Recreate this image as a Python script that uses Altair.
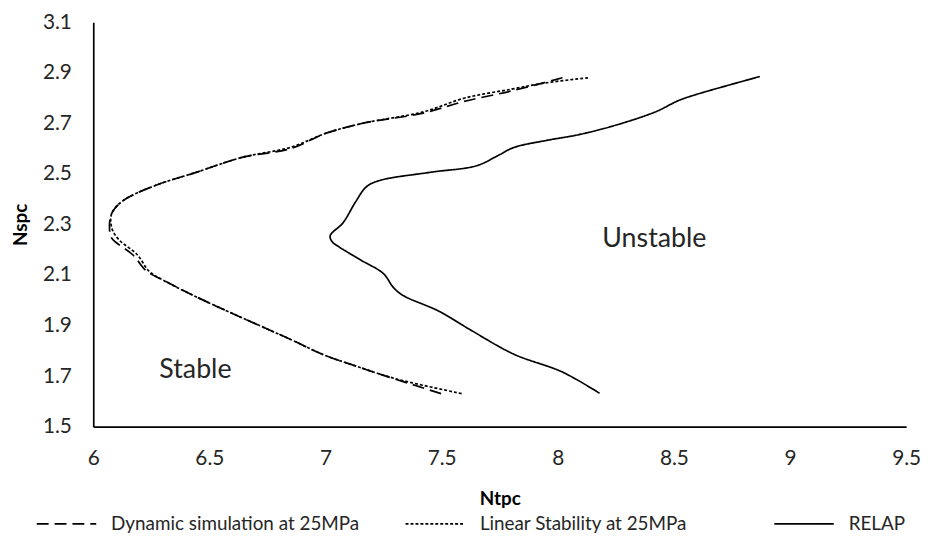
import altair as alt
import pandas as pd

# Series values
dyn_x = [8.02, 7.81, 7.59, 7.42, 7.16, 7.00, 6.85, 6.64, 6.44, 6.27, 6.13, 6.08, 6.07, 6.08, 6.17, 6.23, 6.30, 6.44, 6.63, 6.85, 6.99, 7.13, 7.26, 7.50]
dyn_y = [2.88, 2.83, 2.785, 2.74, 2.70, 2.66, 2.60, 2.565, 2.505, 2.455, 2.395, 2.345, 2.285, 2.245, 2.18, 2.115, 2.08, 2.015, 1.935, 1.845, 1.785, 1.74, 1.70, 1.63]

lin_x = [8.13, 7.95, 7.80, 7.60, 7.42, 7.16, 7.00, 6.85, 6.64, 6.44, 6.27, 6.13, 6.08, 6.08, 6.11, 6.19, 6.24, 6.30, 6.44, 6.63, 6.85, 6.99, 7.13, 7.30, 7.59]
lin_y = [2.88, 2.86, 2.835, 2.80, 2.745, 2.70, 2.66, 2.605, 2.565, 2.505, 2.455, 2.395, 2.345, 2.285, 2.24, 2.18, 2.115, 2.08, 2.015, 1.935, 1.845, 1.785, 1.74, 1.69, 1.63]

relap_x = [8.87, 8.60, 8.52, 8.42, 8.24, 8.09, 7.95, 7.81, 7.74, 7.65, 7.45, 7.23, 7.175, 7.13, 7.075, 7.02, 7.03, 7.06, 7.15, 7.25, 7.29, 7.33, 7.49, 7.62, 7.81, 8.02, 8.18]
relap_y = [2.885, 2.815, 2.79, 2.745, 2.69, 2.655, 2.632, 2.604, 2.571, 2.532, 2.506, 2.473, 2.448, 2.39, 2.306, 2.255, 2.23, 2.21, 2.16, 2.105, 2.053, 2.021, 1.956, 1.885, 1.787, 1.716, 1.632]

series_names = ["Dynamic simulation at 25MPa", "Linear Stability at 25MPa", "RELAP"]

x_ticks = [6, 6.5, 7, 7.5, 8, 8.5, 9, 9.5]
y_ticks = [1.5, 1.7, 1.9, 2.1, 2.3, 2.5, 2.7, 2.9, 3.1]

region_labels = ["Stable", "Unstable"]
region_x = [6.44, 8.416]
region_y = [1.722, 2.244]

rows = []
for name, xs, ys in zip(series_names, [dyn_x, lin_x, relap_x], [dyn_y, lin_y, relap_y]):
    for i, (a, b) in enumerate(zip(xs, ys)):
        rows.append({"series": name, "Ntpc": a, "Nspc": b, "idx": i})
df = pd.DataFrame(rows)
labels_df = pd.DataFrame({"label": region_labels, "x": region_x, "y": region_y})

FONT = "Lato"
TXT = "#262626"

xscale = alt.Scale(domain=[6, 9.5], nice=False, zero=False)
yscale = alt.Scale(domain=[1.5, 3.1], nice=False, zero=False)

lines = alt.Chart(df).mark_line(strokeWidth=1.7, color="black", interpolate="catmull-rom").encode(
    x=alt.X("Ntpc:Q", scale=xscale,
            axis=alt.Axis(values=x_ticks, title="Ntpc", grid=False, ticks=False, format="~g",
                          labelFlush=False, labelPadding=21, titlePadding=22)),
    y=alt.Y("Nspc:Q", scale=yscale,
            axis=alt.Axis(values=y_ticks, title="Nspc", grid=False, ticks=False,
                          labelFlush=False, labelPadding=22, titlePadding=12,
                          format=".1f")),
    strokeDash=alt.StrokeDash("series:N",
        scale=alt.Scale(domain=series_names, range=[[12, 6], [3, 2], [1, 0]]),
        legend=alt.Legend(title=None, orient="none", legendX=-58, legendY=475,
                          direction="horizontal", columns=3, gridAlign="all",
                          symbolType="stroke", symbolSize=3600, symbolStrokeWidth=1.7,
                          symbolStrokeColor="black", labelFontSize=19, labelFont=FONT,
                          labelColor=TXT, columnPadding=42, padding=0,
                          labelOffset=14, labelLimit=500)),
    order="idx:Q",
)

texts = alt.Chart(labels_df).mark_text(fontSize=27, font=FONT, color=TXT).encode(
    x=alt.X("x:Q", scale=xscale),
    y=alt.Y("y:Q", scale=yscale),
    text="label:N",
)

chart = alt.layer(lines, texts).properties(
    width=820, height=408,
    autosize="none",
    padding={"left": 86, "top": 12, "right": 19, "bottom": 108},
).configure_view(stroke=None).configure_axis(
    domainColor="black", domainWidth=1.7,
    labelFont=FONT, labelFontSize=21, labelColor=TXT,
    titleFont=FONT, titleFontSize=19, titleFontWeight="bold", titleColor="black",
)

chart.save("out.html", embed_options={"renderer": "svg", "actions": False})
